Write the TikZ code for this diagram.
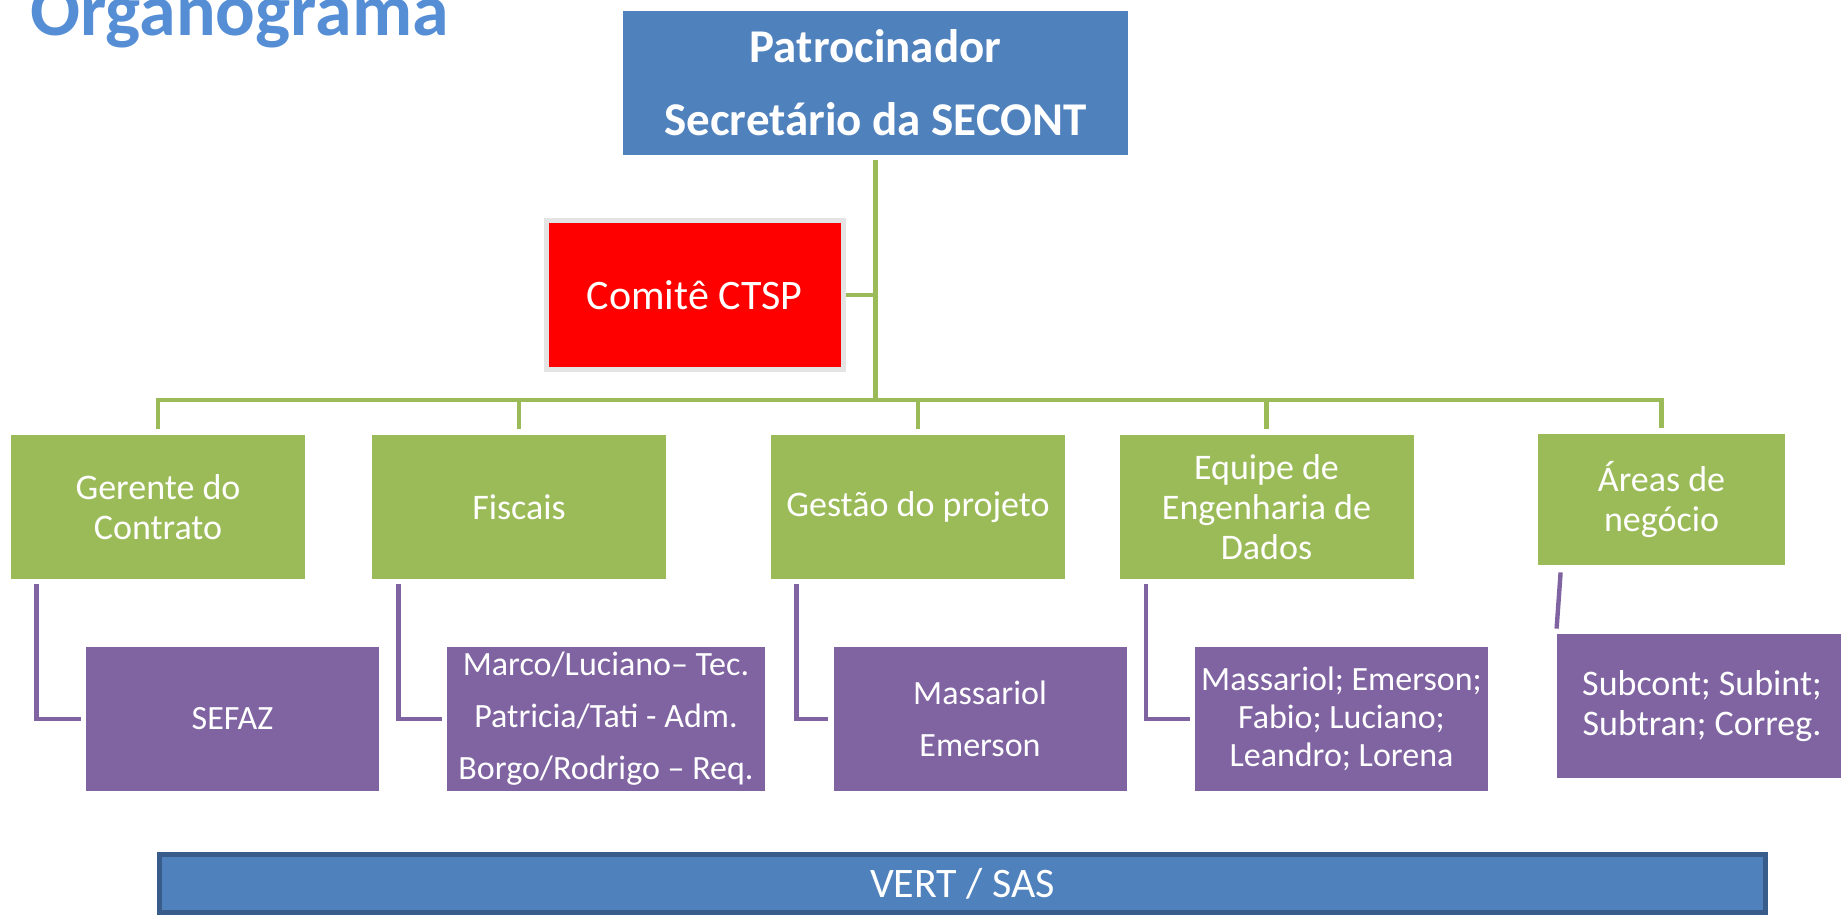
\documentclass[tikz,border=0pt]{standalone}
\usepackage{fontspec}
\setmainfont{Carlito}
\usepackage{tikz}
\usetikzlibrary{positioning,calc}
\definecolor{steel}{HTML}{4F81BD}
\definecolor{steeldark}{HTML}{385D8A}
\definecolor{olive}{HTML}{9BBB59}
\definecolor{plum}{HTML}{8064A2}
\definecolor{sky}{HTML}{558ED5}
\definecolor{haze}{HTML}{E4E4E4}
\tikzset{
  box/.style={inner sep=0pt,align=center,text=white,minimum height=72pt},
  boxs/.style={box,fill=steel,font=\bfseries\fontsize{23.5}{36.5}\selectfont},
  boxr/.style={box,fill=red,draw=haze,line width=2.5pt,font=\fontsize{21}{25}\selectfont},
  boxo/.style={box,fill=olive,minimum width=147pt,font=\fontsize{18}{20}\selectfont},
  boxp/.style={box,fill=plum,minimum width=146.5pt,font=\fontsize{17}{26}\selectfont},
  bar/.style={box,fill=steel,draw=steeldark,line width=2.5pt,minimum height=29pt,font=\fontsize{21}{25}\selectfont},
  gline/.style={draw=olive,line width=2.4pt},
  pline/.style={draw=plum,line width=2.2pt},
  head/.style={font=\bfseries\fontsize{37}{40}\selectfont,text=sky,inner sep=0pt},
}
\begin{document}
\begin{tikzpicture}[x=0.5pt,y=-0.5pt]
\useasboundingbox (0,0) rectangle (1841,915);
\node[head,anchor=base west] (title) at (30,36) {Organograma};
\node[boxs,minimum width=252.5pt] (sponsor) at (875.5,83) {Patrocinador\\Secretário da SECONT};
\node[boxr,minimum width=148.5pt,minimum height=74.5pt] (ctsp) at (694.5,295) {Comitê CTSP};
\node[boxo] (mgr) at (158,507) {Gerente do\\Contrato};
\node[boxo] (fisc) at (519,507) {Fiscais};
\node[boxo] (gest) at (918,507) {Gestão do projeto};
\node[boxo] (eng) at (1266.5,507) {Equipe de\\Engenharia de\\Dados};
\node[boxo,minimum width=123.5pt,minimum height=65.5pt] (area) at (1661.5,499.5) {Áreas de\\negócio};
\node[boxp] (sefaz) at (232.5,719) {SEFAZ};
\node[boxp,minimum width=159pt] (fiscp) at (606,719) {Marco/Luciano– Tec.\\Patricia/Tati - Adm.\\Borgo/Rodrigo – Req.};
\node[boxp] (mass) at (980,719) {Massariol\\Emerson};
\node[boxp,font=\fontsize{17}{19}\selectfont] (team) at (1341.5,719) {Massariol; Emerson;\\Fabio; Luciano;\\Leandro; Lorena};
\node[boxp,minimum width=145pt,font=\fontsize{18}{20}\selectfont] (biz) at (1702,706) {Subcont; Subint;\\Subtran; Correg.};
\node[bar,minimum width=803pt] (vert) at (962.5,883.5) {VERT / SAS};
\coordinate (bus) at (875,400);
\draw[gline]([yshift=-2.5pt]sponsor.south)--(sponsor.south |- bus);\draw[gline](ctsp.east)--(ctsp.east -| sponsor.south);
\draw[gline]([yshift=3pt]mgr.north) |- (bus) -| ([yshift=3pt]area.north);
\draw[gline]([yshift=3pt]fisc.north)--(fisc.north |- bus);\draw[gline]([yshift=3pt]gest.north)--(gest.north |- bus);\draw[gline]([yshift=3pt]eng.north)--(eng.north |- bus);
\draw[pline]([xshift=13pt,yshift=-2.5pt]mgr.south west) |- ([xshift=-2.5pt]sefaz.west);
\draw[pline]([xshift=13.5pt,yshift=-2.5pt]fisc.south west) |- ([xshift=-2.5pt]fiscp.west);
\draw[pline]([xshift=13pt,yshift=-2.5pt]gest.south west) |- ([xshift=-2.5pt]mass.west);
\draw[pline]([xshift=13.5pt,yshift=-2.5pt]eng.south west) |- ([xshift=-2.5pt]team.west);
\draw[pline]([xshift=11.5pt,yshift=-3.5pt]area.south west)--([yshift=2.5pt]biz.north west);
\end{tikzpicture}
\end{document}
